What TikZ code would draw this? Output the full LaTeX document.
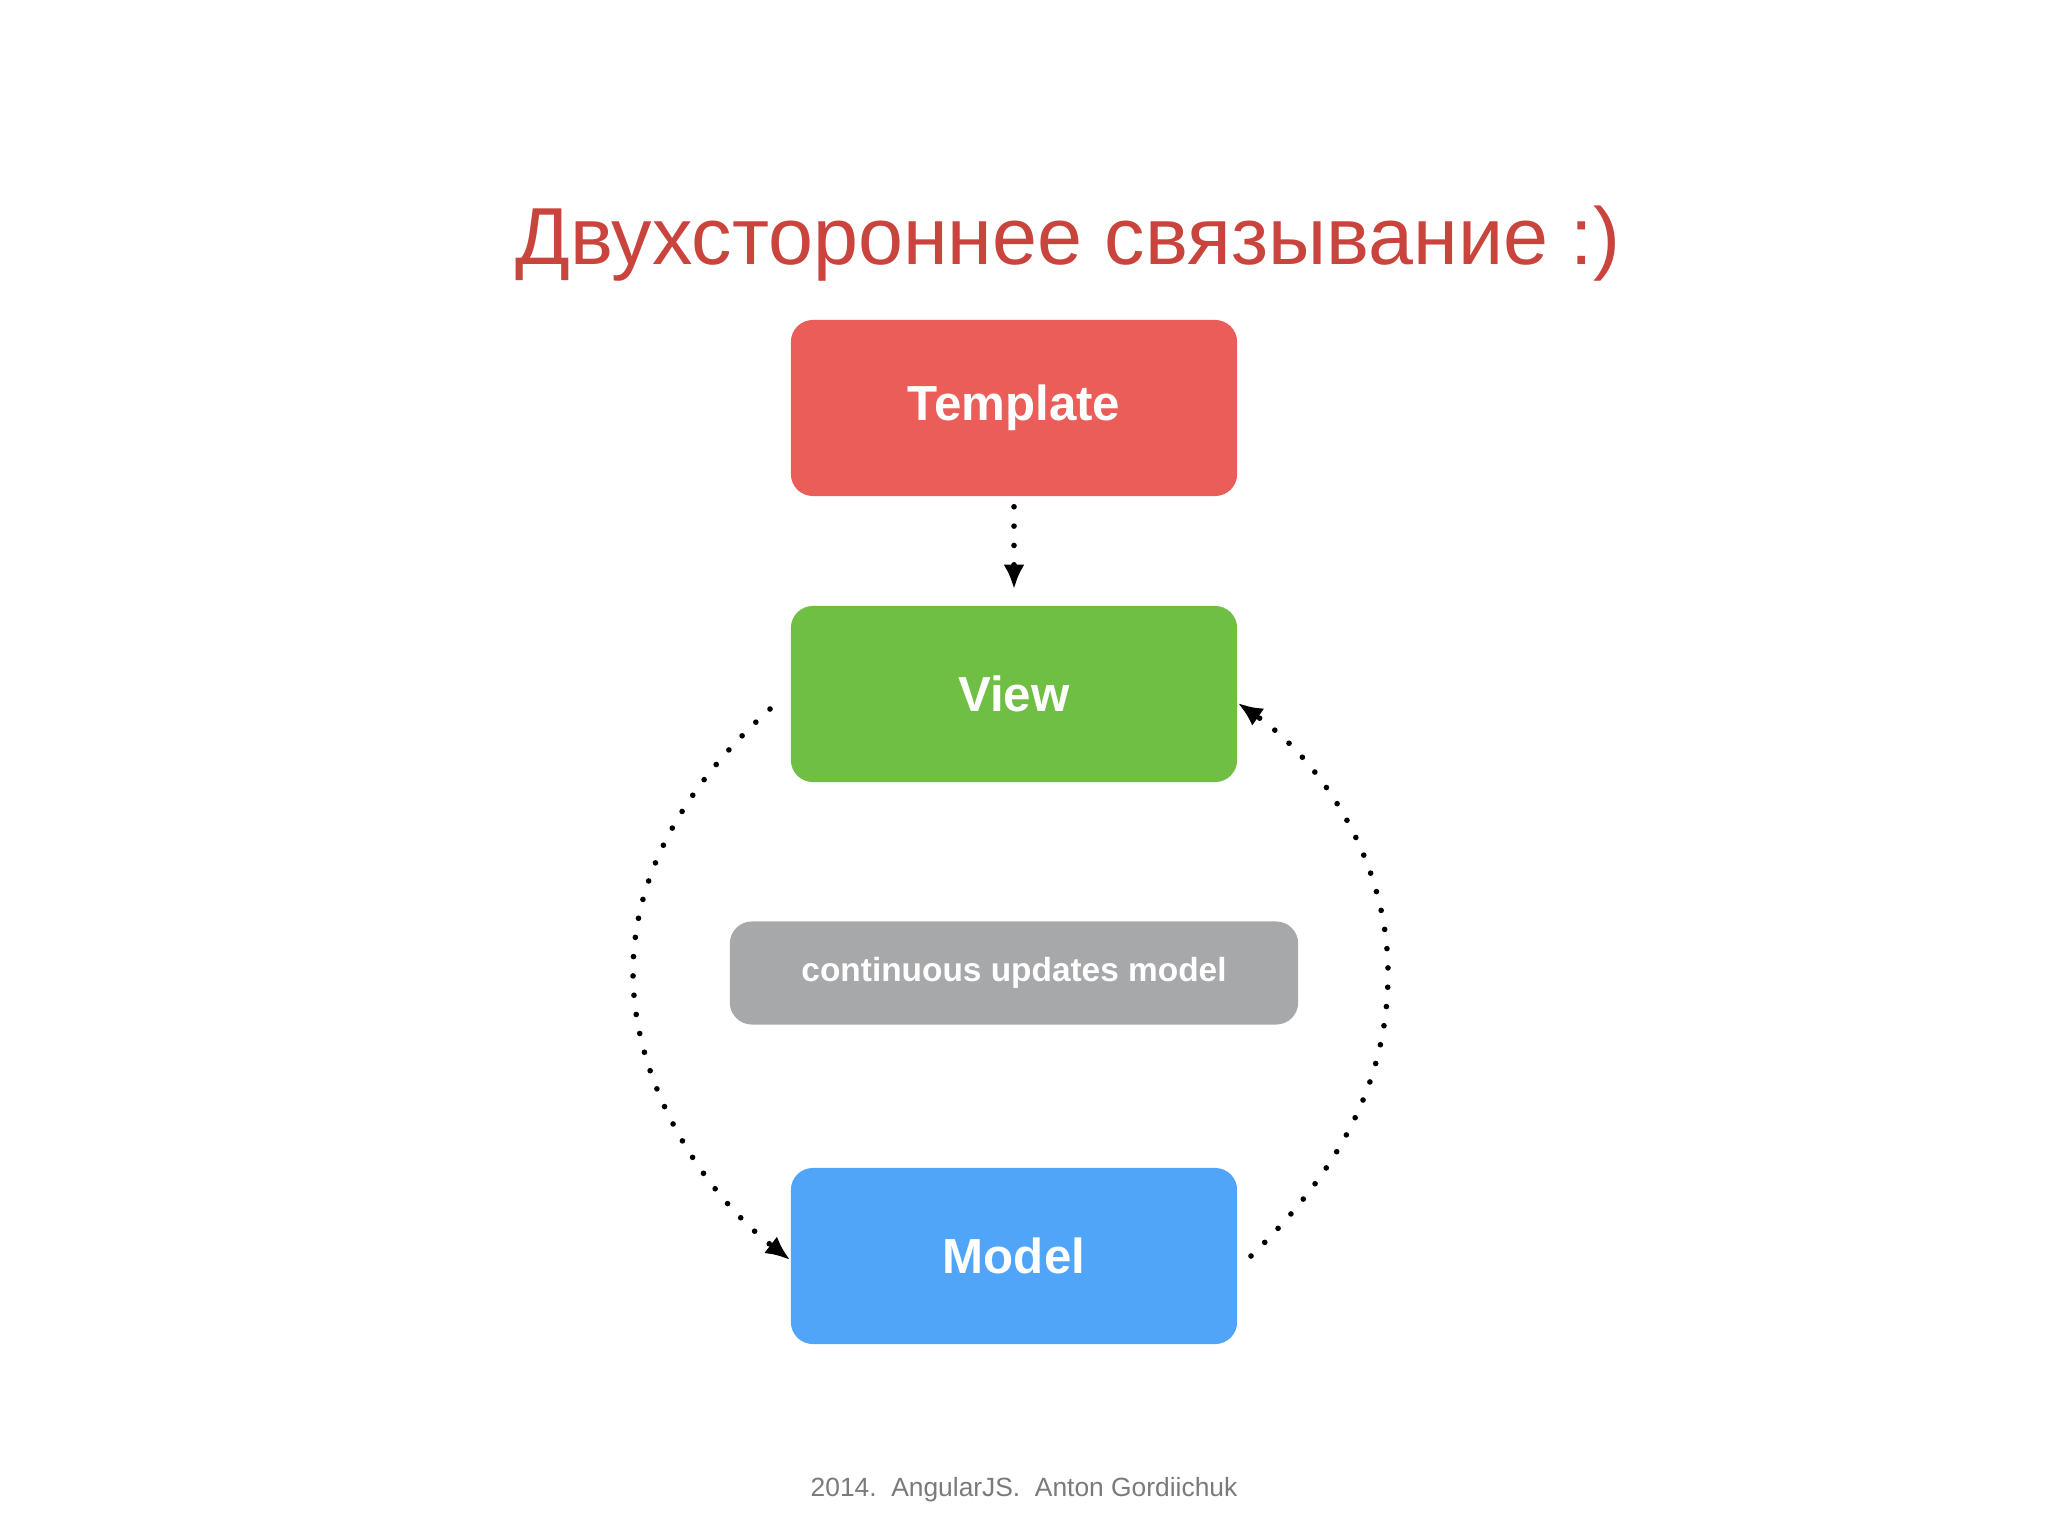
\documentclass[tikz,border=0pt]{standalone}
\usepackage{fontspec}
\setmainfont{Liberation Sans}
\usetikzlibrary{arrows.meta}
\definecolor{tred}{HTML}{EB5D58}
\definecolor{vgreen}{HTML}{6FBF44}
\definecolor{gbox}{HTML}{A7A8AA}
\definecolor{mblue}{HTML}{51A5F8}
\definecolor{ttl}{HTML}{C9443C}
\definecolor{foot}{HTML}{7A7A7A}
\tikzset{
 box/.style={rounded corners=0.22cm, minimum width=4.46cm, minimum height=1.76cm, text=white, font=\bfseries\fontsize{14pt}{16pt}\selectfont, inner sep=0pt},
 dotarrow/.style={line width=1.6pt, dash pattern=on 0pt off 5.5pt, line cap=round, -{Latex[length=7pt,width=6pt]}}
}
\begin{document}
\begin{tikzpicture}[x=0.01cm,y=-0.01cm]
\useasboundingbox (0,0) rectangle (2048,1536);
\node (title) at (1068,244) [text=ttl, font=\fontsize{23pt}{26pt}\selectfont] {Двухстороннее связывание :)};
\node (tpl) at (1014,408) [box, fill=tred] {Template};
\node (view) at (1014,694) [box, fill=vgreen] {View};
\node (cum) at (1014,973) [box, fill=gbox, minimum width=5.68cm, minimum height=1.03cm, font=\bfseries\fontsize{9.5pt}{11pt}\selectfont] {continuous updates model};
\node (model) at (1014,1256) [box, fill=mblue] {Model};
\node (foot) at (1024,1490) [text=foot, font=\fontsize{7.5pt}{9pt}\selectfont] {2014.\ \ AngularJS.\ \ Anton Gordiichuk};
\coordinate (l0) at (770,709);
\coordinate (l1) at (633,973);
\coordinate (r0) at (1251,1256);
\coordinate (r1) at (1388,973);
\draw[dotarrow] ([yshift=-0.1cm]tpl.south) -- ([yshift=0.16cm]view.north);
\draw[dotarrow] (l0) .. controls (680,790) and (633,880) .. (l1) .. controls (633,1080) and (700,1190) .. (model.west|-0,1260);
\draw[dotarrow] (r0) .. controls (1340,1170) and (1388,1080) .. (r1) .. controls (1388,860) and (1320,760) .. (view.east|-0,703);
\end{tikzpicture}
\end{document}
